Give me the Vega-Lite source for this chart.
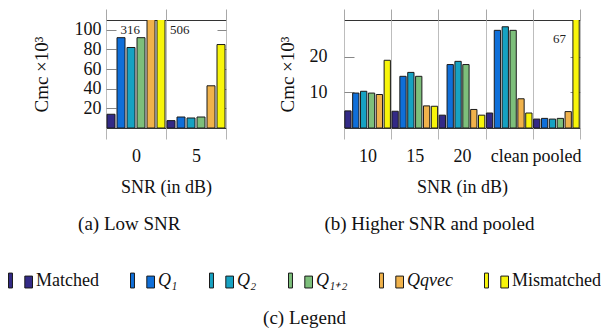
{
  "$schema": "https://vega.github.io/schema/vega-lite/v6.json",
  "padding": {"left": 8, "top": 5, "right": 0, "bottom": 0},
  "background": "white",
  "datasets": {
    "low": [
      {"snr": "0", "series": "Matched", "value": 14},
      {"snr": "0", "series": "Q₁", "value": 92},
      {"snr": "0", "series": "Q₂", "value": 82},
      {"snr": "0", "series": "Q₁₊₂", "value": 92},
      {"snr": "0", "series": "Qqvec", "value": 316},
      {"snr": "0", "series": "Mismatched", "value": 506},
      {"snr": "5", "series": "Matched", "value": 7.5},
      {"snr": "5", "series": "Q₁", "value": 11.2},
      {"snr": "5", "series": "Q₂", "value": 10.2},
      {"snr": "5", "series": "Q₁₊₂", "value": 11.2},
      {"snr": "5", "series": "Qqvec", "value": 43},
      {"snr": "5", "series": "Mismatched", "value": 85}
    ],
    "high": [
      {"snr": "10", "series": "Matched", "value": 4.8},
      {"snr": "10", "series": "Q₁", "value": 9.8},
      {"snr": "10", "series": "Q₂", "value": 10.3},
      {"snr": "10", "series": "Q₁₊₂", "value": 9.8},
      {"snr": "10", "series": "Qqvec", "value": 9.4},
      {"snr": "10", "series": "Mismatched", "value": 19.0},
      {"snr": "15", "series": "Matched", "value": 4.7},
      {"snr": "15", "series": "Q₁", "value": 14.5},
      {"snr": "15", "series": "Q₂", "value": 15.6},
      {"snr": "15", "series": "Q₁₊₂", "value": 14.5},
      {"snr": "15", "series": "Qqvec", "value": 6.2},
      {"snr": "15", "series": "Mismatched", "value": 6.1},
      {"snr": "20", "series": "Matched", "value": 3.6},
      {"snr": "20", "series": "Q₁", "value": 17.8},
      {"snr": "20", "series": "Q₂", "value": 18.7},
      {"snr": "20", "series": "Q₁₊₂", "value": 17.8},
      {"snr": "20", "series": "Qqvec", "value": 5.2},
      {"snr": "20", "series": "Mismatched", "value": 3.6},
      {"snr": "clean", "series": "Matched", "value": 4.2},
      {"snr": "clean", "series": "Q₁", "value": 27.4},
      {"snr": "clean", "series": "Q₂", "value": 28.4},
      {"snr": "clean", "series": "Q₁₊₂", "value": 27.4},
      {"snr": "clean", "series": "Qqvec", "value": 8.2},
      {"snr": "clean", "series": "Mismatched", "value": 4.2},
      {"snr": "pooled", "series": "Matched", "value": 2.5},
      {"snr": "pooled", "series": "Q₁", "value": 2.7},
      {"snr": "pooled", "series": "Q₂", "value": 2.5},
      {"snr": "pooled", "series": "Q₁₊₂", "value": 2.7},
      {"snr": "pooled", "series": "Qqvec", "value": 4.6},
      {"snr": "pooled", "series": "Mismatched", "value": 67}
    ]
  },
  "title": {"text": "(c)  Legend", "orient": "bottom", "anchor": "middle", "offset": 19, "fontSize": 19, "font": "Liberation Serif", "fontWeight": "normal", "color": "#111"},
  "resolve": {"scale": {"x": "independent", "xOffset": "independent", "y": "independent"}},
  "hconcat": [
    {
      "width": 120,
      "height": 108,
      "data": {"name": "low"},
      "title": {"text": "(a)  Low SNR", "orient": "bottom", "anchor": "middle", "frame": "bounds", "offset": 19, "fontSize": 19},
      "layer": [
        {
          "mark": {"type": "bar", "clip": true, "stroke": "#1a1a1a", "strokeWidth": 1},
          "encoding": {
            "x": {"field": "snr", "type": "nominal", "sort": ["0", "5"], "scale": {"type": "band", "paddingInner": 0, "paddingOuter": 0},
              "axis": {"orient": "bottom", "title": "SNR (in dB)", "labelAngle": 0, "tickBand": "extent", "ticks": true, "tickSize": 11, "tickColor": "#b5b5b5", "grid": true, "gridColor": "#bdbdbd", "domain": false, "labelPadding": 8, "titlePadding": 13, "labelOverlap": false}},
            "xOffset": {"field": "series", "type": "nominal", "sort": ["Matched", "Q₁", "Q₂", "Q₁₊₂", "Qqvec", "Mismatched"], "scale": {"paddingInner": 0.2, "paddingOuter": 0.1}},
            "y": {"field": "value", "type": "quantitative", "scale": {"domain": [0, 110]},
              "axis": {"title": "Cmc ×10³", "values": [20, 40, 60, 80, 100], "grid": false, "domain": false, "tickSize": -10, "tickColor": "#888", "labelPadding": 15, "titlePadding": 23, "titleFontSize": 19}},
            "color": {"field": "series", "type": "nominal", "title": null,
              "scale": {"domain": ["Matched", "Q₁", "Q₂", "Q₁₊₂", "Qqvec", "Mismatched"], "range": ["#332a86", "#0f6fd9", "#16a2c2", "#7dbf7b", "#f0b24b", "#f8f50a"]},
              "legend": {"encode": {"labels": {"update": {"fontStyle": {"signal": "datum.label === 'Matched' || datum.label === 'Mismatched' ? 'normal' : 'italic'"}}}}}}
          }
        },
        {
          "transform": [{"filter": "datum.series === 'Qqvec' && datum.value > 110"}],
          "mark": {"type": "text", "align": "right", "baseline": "middle", "dx": -11, "fontSize": 13, "color": "#222", "font": "Liberation Serif"},
          "encoding": {
            "x": {"field": "snr", "type": "nominal", "sort": ["0", "5"], "scale": {"type": "band", "paddingInner": 0, "paddingOuter": 0},
              "axis": {"orient": "top", "title": null, "labels": true, "labelFontSize": 4, "labelColor": "#ffffff", "labelPadding": -8, "tickBand": "extent", "ticks": true, "tickSize": 11, "tickWidth": 1, "tickColor": "#a8a8a8", "tickOpacity": 1, "grid": false, "domain": false}},
            "xOffset": {"field": "series", "type": "nominal", "sort": ["Matched", "Q₁", "Q₂", "Q₁₊₂", "Qqvec", "Mismatched"], "scale": {"paddingInner": 0.2, "paddingOuter": 0.1}},
            "y": {"datum": 100, "type": "quantitative", "scale": {"domain": [0, 110]}, "axis": {"orient": "right", "title": null, "labels": false, "values": [20, 40, 60, 80, 100], "grid": false, "domain": false, "tickSize": -9, "tickColor": "#888"}},
            "text": {"field": "value", "type": "quantitative"}
          }
        },
        {
          "transform": [{"filter": "datum.series === 'Mismatched' && datum.value > 110"}],
          "mark": {"type": "text", "align": "left", "baseline": "middle", "dx": 9, "fontSize": 13, "color": "#222", "font": "Liberation Serif"},
          "encoding": {
            "x": {"field": "snr", "type": "nominal", "sort": ["0", "5"], "scale": {"type": "band", "paddingInner": 0, "paddingOuter": 0}, "axis": null},
            "xOffset": {"field": "series", "type": "nominal", "sort": ["Matched", "Q₁", "Q₂", "Q₁₊₂", "Qqvec", "Mismatched"], "scale": {"paddingInner": 0.2, "paddingOuter": 0.1}},
            "y": {"datum": 100, "type": "quantitative", "scale": {"domain": [0, 110]}, "axis": null},
            "text": {"field": "value", "type": "quantitative"}
          }
        }
      ],
      "resolve": {"axis": {"x": "independent", "y": "independent"}}
    },
    {
      "width": 236,
      "height": 108,
      "data": {"name": "high"},
      "title": {"text": "(b)  Higher SNR and pooled", "orient": "bottom", "anchor": "middle", "frame": "bounds", "offset": 19, "fontSize": 19},
      "layer": [
        {
          "mark": {"type": "bar", "clip": true, "stroke": "#1a1a1a", "strokeWidth": 1},
          "encoding": {
            "x": {"field": "snr", "type": "nominal", "sort": ["10", "15", "20", "clean", "pooled"], "scale": {"type": "band", "paddingInner": 0, "paddingOuter": 0},
              "axis": {"orient": "bottom", "title": "SNR (in dB)", "labelAngle": 0, "tickBand": "extent", "ticks": true, "tickSize": 11, "tickColor": "#b5b5b5", "grid": true, "gridColor": "#bdbdbd", "domain": false, "labelPadding": 8, "titlePadding": 13, "labelOverlap": false}},
            "xOffset": {"field": "series", "type": "nominal", "sort": ["Matched", "Q₁", "Q₂", "Q₁₊₂", "Qqvec", "Mismatched"], "scale": {"paddingInner": 0.2, "paddingOuter": 0.1}},
            "y": {"field": "value", "type": "quantitative", "scale": {"domain": [0, 30.3]},
              "axis": {"title": "Cmc ×10³", "values": [10, 20], "grid": false, "domain": false, "tickSize": -10, "tickColor": "#888", "labelPadding": 27, "titlePadding": 12, "titleFontSize": 19}},
            "color": {"field": "series", "type": "nominal", "title": null,
              "scale": {"domain": ["Matched", "Q₁", "Q₂", "Q₁₊₂", "Qqvec", "Mismatched"], "range": ["#332a86", "#0f6fd9", "#16a2c2", "#7dbf7b", "#f0b24b", "#f8f50a"]},
              "legend": {"encode": {"labels": {"update": {"fontStyle": {"signal": "datum.label === 'Matched' || datum.label === 'Mismatched' ? 'normal' : 'italic'"}}}}}}
          }
        },
        {
          "transform": [{"filter": "datum.series === 'Mismatched' && datum.value > 30.3"}],
          "mark": {"type": "text", "align": "right", "baseline": "middle", "dx": -10, "fontSize": 13, "color": "#222", "font": "Liberation Serif"},
          "encoding": {
            "x": {"field": "snr", "type": "nominal", "sort": ["10", "15", "20", "clean", "pooled"], "scale": {"type": "band", "paddingInner": 0, "paddingOuter": 0},
              "axis": {"orient": "top", "title": null, "labels": true, "labelFontSize": 4, "labelColor": "#ffffff", "labelPadding": -8, "tickBand": "extent", "ticks": true, "tickSize": 11, "tickWidth": 1, "tickColor": "#a8a8a8", "tickOpacity": 1, "grid": false, "domain": false}},
            "xOffset": {"field": "series", "type": "nominal", "sort": ["Matched", "Q₁", "Q₂", "Q₁₊₂", "Qqvec", "Mismatched"], "scale": {"paddingInner": 0.2, "paddingOuter": 0.1}},
            "y": {"datum": 25, "type": "quantitative", "scale": {"domain": [0, 30.3]}, "axis": {"orient": "right", "title": null, "labels": false, "values": [10, 20], "grid": false, "domain": false, "tickSize": -10, "tickColor": "#888"}},
            "text": {"field": "value", "type": "quantitative"}
          }
        }
      ],
      "resolve": {"axis": {"x": "independent", "y": "independent"}}
    }
  ],
  "config": {
    "font": "Liberation Serif",
    "view": {"stroke": "#333", "strokeWidth": 1},
    "concat": {"spacing": 50},
    "axis": {"labelFont": "Liberation Serif", "titleFont": "Liberation Serif", "labelFontSize": 18, "titleFontSize": 18, "titleFontWeight": "normal", "labelColor": "#111", "titleColor": "#111"},
    "title": {"font": "Liberation Serif", "fontSize": 18, "fontWeight": "normal", "color": "#111"},
    "legend": {
      "orient": "none",
      "legendX": -98,
      "legendY": 248,
      "direction": "horizontal",
      "padding": 0,
      "symbolType": "M-1,-0.62H-0.67V0.62H-1Z M0.36,-0.37H1V0.62H0.36Z",
      "symbolSize": 576,
      "symbolStrokeColor": "#1a1a1a",
      "symbolStrokeWidth": 1,
      "symbolOpacity": 1,
      "labelFont": "Liberation Serif",
      "labelFontSize": 18,
      "labelColor": "#111",
      "labelOffset": 3,
      "columnPadding": 29
    }
  }
}
